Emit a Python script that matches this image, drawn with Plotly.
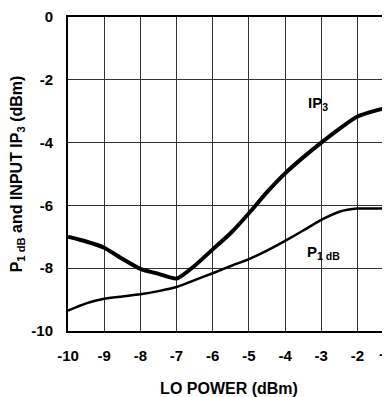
import plotly.graph_objects as go

lo_power = [-10, -9.5, -9, -8.5, -8, -7.5, -7, -6.5, -6, -5.5, -5, -4.5, -4, -3.5, -3, -2.5, -2, -1.5, -1]
ip3 = [-7.0, -7.15, -7.35, -7.7, -8.02, -8.18, -8.33, -7.92, -7.4, -6.88, -6.25, -5.58, -4.98, -4.47, -4.0, -3.56, -3.17, -2.98, -2.85]
p1db = [-9.35, -9.12, -8.97, -8.9, -8.83, -8.73, -8.6, -8.38, -8.16, -7.93, -7.71, -7.44, -7.13, -6.8, -6.46, -6.2, -6.1, -6.1, -6.1]

x_ticks = [-10, -9, -8, -7, -6, -5, -4, -3, -2]
y_ticks = [0, -2, -4, -6, -8, -10]
x_range = [-10, -1.1]
y_range = [-10, 0]

FONT = "Liberation Sans, Arial, Helvetica, sans-serif"

fig = go.Figure()
fig.add_trace(go.Scatter(x=lo_power, y=ip3, mode="lines",
                         line=dict(color="black", width=4, shape="spline", smoothing=0.6),
                         cliponaxis=True, showlegend=False))
fig.add_trace(go.Scatter(x=lo_power, y=p1db, mode="lines",
                         line=dict(color="black", width=2.5, shape="spline", smoothing=0.6),
                         cliponaxis=True, showlegend=False))

fig.add_annotation(x=-3.1, y=-2.75, xref="x", yref="y", text="IP<sub>3</sub>",
                   showarrow=False, font=dict(family=FONT, size=15, color="black", weight="bold"))
fig.add_annotation(x=-2.93, y=-7.5, xref="x", yref="y", text="P<sub>1 dB</sub>",
                   showarrow=False, font=dict(family=FONT, size=15, color="black", weight="bold"))

# partially visible "-1" tick label just past the right edge
fig.add_annotation(x=(-1 - x_range[0]) / (x_range[1] - x_range[0]), y=0, xref="paper", yref="paper",
                   yanchor="top", yshift=-12, text="-1", showarrow=False,
                   font=dict(family=FONT, size=15, color="black", weight="bold"))

fig.update_xaxes(range=x_range, tickvals=x_ticks, ticktext=[str(v) for v in x_ticks],
                 showgrid=True, gridcolor="#333333", gridwidth=1,
                 showline=True, linecolor="black", linewidth=2, mirror=True,
                 ticks="", ticklabelstandoff=10, zeroline=False, ticklabeloverflow="allow",
                 tickfont=dict(family=FONT, size=15, color="black", weight="bold"),
                 title=dict(text="LO POWER (dBm)", standoff=22,
                            font=dict(family=FONT, size=16, color="black", weight="bold")))
fig.update_yaxes(range=y_range, tickvals=y_ticks, ticktext=[str(v) for v in y_ticks],
                 showgrid=True, gridcolor="#333333", gridwidth=1,
                 showline=True, linecolor="black", linewidth=2, mirror=False,
                 ticks="", ticklabelstandoff=10, zeroline=False, ticklabeloverflow="allow",
                 tickfont=dict(family=FONT, size=15, color="black", weight="bold"),
                 title=dict(text="P<sub>1 dB</sub> and INPUT IP<sub>3</sub> (dBm)", standoff=6,
                            font=dict(family=FONT, size=16, color="black", weight="bold")))

# page body has an 8px default margin, so the figure is sized to fit inside it
fig.update_layout(width=382, height=389, margin=dict(l=60, r=0, t=4, b=65),
                  plot_bgcolor="white", paper_bgcolor="white")

fig.write_html("out.html")
